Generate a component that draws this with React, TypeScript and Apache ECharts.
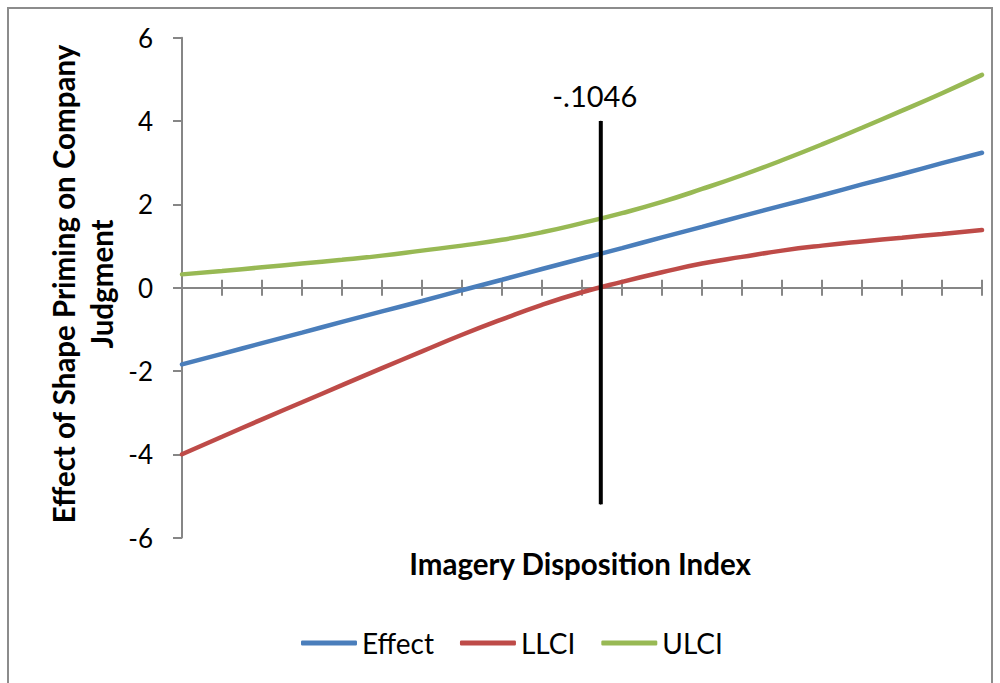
import React, { useEffect, useRef } from "react";
import * as echarts from "echarts";

const xIndex = [0, 1, 2, 3, 4, 5, 6, 7, 8, 9, 10, 11, 12, 13, 14, 15, 16, 17, 18, 19, 20];
const effect = [-1.84, -1.59, -1.33, -1.08, -0.82, -0.57, -0.32, -0.06, 0.19, 0.45, 0.70, 0.95, 1.21, 1.46, 1.72, 1.97, 2.22, 2.48, 2.73, 2.99, 3.24];
const llci = [-4.0, -3.58, -3.16, -2.75, -2.34, -1.93, -1.53, -1.13, -0.76, -0.41, -0.11, 0.14, 0.37, 0.58, 0.74, 0.89, 1.01, 1.11, 1.2, 1.29, 1.385];
const ulci = [0.32, 0.4, 0.49, 0.58, 0.67, 0.77, 0.89, 1.01, 1.15, 1.33, 1.55, 1.79, 2.06, 2.37, 2.7, 3.06, 3.44, 3.84, 4.25, 4.67, 5.11];
const jnX = 10.47;
const jnTop = 4;
const jnBottom = -5.2;
const jnLabel = "-.1046";
const yTicks = { min: -6, max: 6, interval: 2 };
const seriesNames = ["Effect", "LLCI", "ULCI"];
const colors = ["#4a7ebb", "#be4b48", "#98b954"];
const yTitle = "Effect of Shape Priming on Company\nJudgment";
const xTitle = "Imagery Disposition Index";

const FONT = "Lato, 'Noto Sans', sans-serif";
const AXIS_COLOR = "#868686";

export default function App() {
  const ref = useRef<HTMLDivElement>(null);
  useEffect(() => {
    if (!ref.current) return;
    const chart = echarts.init(ref.current, undefined, { renderer: "svg" });
    const toPairs = (vals: number[]) => xIndex.map((x, i) => [x, vals[i]]);
    const mkLine = (name: string, vals: number[], color: string) => ({
      name,
      type: "line",
      xAxisIndex: 0,
      yAxisIndex: 0,
      data: toPairs(vals),
      smooth: true,
      showSymbol: false,
      symbol: "none",
      lineStyle: { color, width: 4.5, cap: "round" },
      itemStyle: { color },
      z: 3,
    });
    const gridBox = { left: 182, right: 18, top: 37.8, bottom: 145.4, containLabel: false };
    const xBase = (gridIndex: number, position: string) => ({
      type: "value",
      gridIndex,
      position,
      min: 0,
      max: 20,
      interval: 1,
      axisLabel: { show: false },
      splitLine: { show: false },
      axisLine: { show: true, onZero: true, lineStyle: { color: AXIS_COLOR, width: 2 } },
      axisTick: { show: true, inside: false, length: 8, lineStyle: { color: AXIS_COLOR, width: 2 } },
    });
    chart.setOption({
      animation: false,
      backgroundColor: "#ffffff",
      textStyle: { fontFamily: FONT },
      grid: [gridBox, gridBox],
      xAxis: [xBase(0, "bottom"), xBase(1, "top")],
      yAxis: [
        {
          type: "value",
          gridIndex: 0,
          min: yTicks.min,
          max: yTicks.max,
          interval: yTicks.interval,
          splitLine: { show: false },
          axisLine: { show: true, lineStyle: { color: AXIS_COLOR, width: 2 } },
          axisTick: { show: true, length: 9, lineStyle: { color: AXIS_COLOR, width: 2 } },
          axisLabel: { color: "#000", fontSize: 26, fontFamily: FONT, margin: 29 },
        },
        {
          type: "value",
          gridIndex: 1,
          min: yTicks.min,
          max: yTicks.max,
          interval: yTicks.interval,
          show: false,
        },
      ],
      legend: {
        data: seriesNames,
        left: 296,
        top: 624,
        icon: "roundRect",
        itemWidth: 56,
        itemHeight: 5,
        itemGap: 26,
        textStyle: { color: "#000", fontSize: 28, fontFamily: FONT },
      },
      series: [
        mkLine(seriesNames[0], effect, colors[0]),
        mkLine(seriesNames[1], llci, colors[1]),
        mkLine(seriesNames[2], ulci, colors[2]),
        {
          name: "jn",
          type: "line",
          xAxisIndex: 0,
          yAxisIndex: 0,
          data: [
            [jnX, jnBottom],
            {
              value: [jnX, jnTop],
              label: {
                show: true,
                formatter: jnLabel,
                position: "top",
                distance: 11,
                offset: [-6, 0],
                color: "#000",
                fontSize: 29,
                fontFamily: FONT,
              },
            },
          ],
          showSymbol: true,
          symbol: "circle",
          symbolSize: 1,
          itemStyle: { color: "#000" },
          lineStyle: { color: "#000", width: 4 },
          z: 4,
        },
      ],
      graphic: [
        {
          type: "rect",
          shape: { x: 8, y: 8, width: 984, height: 700 },
          style: { fill: "none", stroke: "#8c8c8c", lineWidth: 2 },
          silent: true,
        },
        {
          type: "text",
          x: 82,
          y: 284,
          rotation: Math.PI / 2,
          style: {
            text: yTitle,
            font: `bold 29.5px ${FONT}`,
            fill: "#000",
            align: "center",
            verticalAlign: "middle",
            lineHeight: 38,
          },
        },
        {
          type: "text",
          x: 580,
          y: 563,
          style: {
            text: xTitle,
            font: `bold 29.5px ${FONT}`,
            fill: "#000",
            align: "center",
            verticalAlign: "middle",
          },
        },
      ],
    });
    return () => chart.dispose();
  }, []);
  return (
    <div
      ref={ref}
      style={{ position: "absolute", left: 0, top: 0, width: 1000, height: 683 }}
    />
  );
}
